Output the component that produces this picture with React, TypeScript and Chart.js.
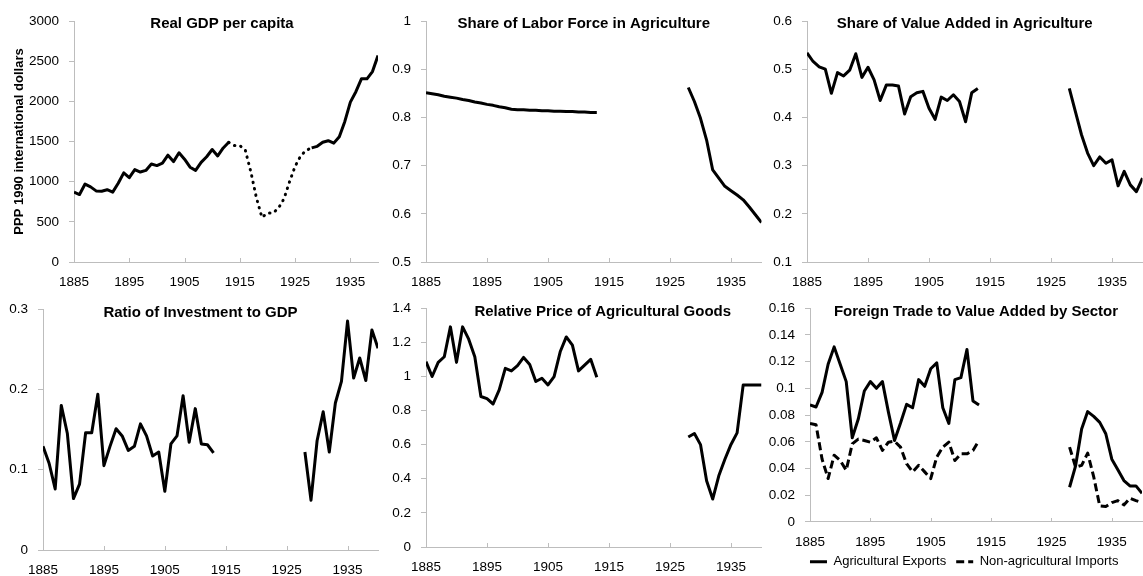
import React, { useEffect, useRef } from 'react';
import { Chart, registerables } from 'chart.js';

Chart.register(...registerables);

const FONT = "'Liberation Sans', Arial, Helvetica, sans-serif";
const GREY = '#bdbdbd';
const INK = '#000000';

Chart.defaults.font.family = FONT;
Chart.defaults.color = INK;

// ---------- categories ----------
const yearsEarly = [1885, 1886, 1887, 1888, 1889, 1890, 1891, 1892, 1893, 1894, 1895, 1896, 1897, 1898, 1899, 1900, 1901, 1902, 1903, 1904, 1905, 1906, 1907, 1908, 1909, 1910, 1911, 1912, 1913];
const yearsWar = [1914, 1915, 1916, 1917, 1918, 1919, 1920, 1921, 1922, 1923, 1924, 1925, 1926, 1927];
const yearsLate = [1928, 1929, 1930, 1931, 1932, 1933, 1934, 1935, 1936, 1937, 1938, 1939, 1940];
const xTicks = [1885, 1895, 1905, 1915, 1925, 1935];

// ---------- series ----------
const gdpEarly = [870, 840, 970, 935, 885, 880, 900, 870, 980, 1110, 1050, 1150, 1120, 1140, 1220, 1200, 1230, 1330, 1250, 1360, 1280, 1180, 1140, 1240, 1310, 1400, 1320, 1420, 1490];
const gdpWar = [1450, 1450, 1390, 1120, 800, 555, 610, 610, 670, 790, 1000, 1190, 1320, 1390];
const gdpLate = [1420, 1440, 1490, 1510, 1480, 1560, 1750, 1990, 2120, 2280, 2280, 2370, 2570];

const laborEarly = [0.851, 0.849, 0.847, 0.844, 0.842, 0.84, 0.837, 0.835, 0.832, 0.83, 0.827, 0.825, 0.822, 0.82, 0.817, 0.816, 0.816, 0.815, 0.815, 0.814, 0.814, 0.813, 0.813, 0.812, 0.812, 0.811, 0.811, 0.81, 0.81];
const laborLate = [0.862, 0.833, 0.798, 0.753, 0.691, 0.674, 0.657, 0.648, 0.639, 0.629, 0.614, 0.598, 0.582];

const vaEarly = [0.534, 0.516, 0.505, 0.5, 0.45, 0.493, 0.486, 0.498, 0.532, 0.483, 0.504, 0.478, 0.435, 0.467, 0.467, 0.465, 0.407, 0.443, 0.451, 0.454, 0.419, 0.396, 0.442, 0.435, 0.447, 0.433, 0.391, 0.451, 0.46];
const vaLate = [0.46, 0.412, 0.364, 0.326, 0.3, 0.318, 0.305, 0.312, 0.258, 0.288, 0.26, 0.246, 0.274];

const invEarly = [0.129, 0.108, 0.076, 0.18, 0.145, 0.064, 0.082, 0.146, 0.146, 0.194, 0.105, 0.129, 0.151, 0.142, 0.124, 0.129, 0.157, 0.142, 0.117, 0.122, 0.073, 0.132, 0.142, 0.192, 0.134, 0.176, 0.132, 0.131, 0.121];
const invLate = [0.122, 0.062, 0.136, 0.172, 0.122, 0.183, 0.21, 0.285, 0.214, 0.239, 0.211, 0.274, 0.251];

const priceEarly = [1.086, 0.999, 1.082, 1.115, 1.29, 1.082, 1.29, 1.218, 1.115, 0.882, 0.869, 0.838, 0.921, 1.047, 1.032, 1.063, 1.111, 1.07, 0.97, 0.989, 0.95, 0.999, 1.144, 1.231, 1.183, 1.032, 1.066, 1.1, 0.995];
const priceLate = [0.645, 0.665, 0.6, 0.388, 0.281, 0.417, 0.514, 0.601, 0.669, 0.95, 0.95, 0.95, 0.95];

const exportsEarly = [0.0875, 0.086, 0.097, 0.118, 0.131, 0.118, 0.105, 0.063, 0.077, 0.098, 0.105, 0.1, 0.105, 0.082, 0.061, 0.074, 0.088, 0.0855, 0.1065, 0.1015, 0.1146, 0.119, 0.0855, 0.0737, 0.1065, 0.108, 0.129, 0.0905, 0.0875];
const exportsLate = [0.026, 0.042, 0.0695, 0.0826, 0.079, 0.0745, 0.066, 0.047, 0.039, 0.031, 0.027, 0.027, 0.0215];
const importsEarly = [0.0737, 0.0727, 0.047, 0.0325, 0.05, 0.046, 0.0387, 0.0584, 0.062, 0.061, 0.0597, 0.063, 0.0535, 0.0597, 0.0604, 0.056, 0.0436, 0.0375, 0.0424, 0.0375, 0.0325, 0.0486, 0.056, 0.0597, 0.046, 0.051, 0.051, 0.0535, 0.061];
const importsLate = [0.056, 0.041, 0.0424, 0.0515, 0.0338, 0.012, 0.0116, 0.0145, 0.016, 0.0128, 0.0178, 0.016, 0.0145];

// ---------- tick labels ----------
const gdpTicks = [0, 500, 1000, 1500, 2000, 2500, 3000];
const laborTicks = [0.5, 0.6, 0.7, 0.8, 0.9, 1];
const vaTicks = [0.1, 0.2, 0.3, 0.4, 0.5, 0.6];
const invTicks = [0, 0.1, 0.2, 0.3];
const priceTicks = [0, 0.2, 0.4, 0.6, 0.8, 1, 1.2, 1.4];
const tradeTicks = [0, 0.02, 0.04, 0.06, 0.08, 0.1, 0.12, 0.14, 0.16];

// ---------- helpers ----------
type Pt = { x: number; y: number | null };
const pts = (years: number[], vals: number[]): Pt[] => years.map((x, i) => ({ x, y: vals[i] }));
const withGap = (a: Pt[], b: Pt[]): Pt[] => [...a, { x: (a[a.length - 1].x + b[0].x) / 2, y: null }, ...b];

const solid = (label: string, early: number[], late: number[]) => ({
  label,
  data: withGap(pts(yearsEarly, early), pts(yearsLate, late)),
  borderColor: INK,
  backgroundColor: INK,
  borderWidth: 3,
  spanGaps: false,
});

const panelTitlePlugin = {
  id: 'panelTitle',
  afterDraw(chart: any, _args: any, opts: any) {
    const { ctx, chartArea } = chart;
    ctx.save();
    ctx.font = `bold 15px ${FONT}`;
    ctx.fillStyle = INK;
    ctx.textAlign = 'center';
    ctx.textBaseline = 'alphabetic';
    ctx.fillText(opts.text, (chartArea.left + chartArea.right) / 2 + opts.dx, chartArea.top + opts.dy);
    ctx.restore();
  },
};

const xTickMarksPlugin = {
  id: 'xTickMarks',
  afterDraw(chart: any) {
    const s = chart.scales.x;
    const ctx = chart.ctx;
    ctx.save();
    ctx.strokeStyle = GREY;
    ctx.lineWidth = 1;
    s.ticks.forEach((t: any) => {
      const px = Math.round(s.getPixelForValue(t.value)) + 0.5;
      ctx.beginPath();
      ctx.moveTo(px, s.top);
      ctx.lineTo(px, s.top - 4);
      ctx.stroke();
    });
    ctx.restore();
  },
};

// nudges the legend box after Chart.js has laid it out
const legendShiftPlugin = {
  id: 'legendShift',
  afterLayout(chart: any, _args: any, opts: any) {
    const lg = chart.legend;
    if (!lg || !opts || (!opts.dx && !opts.dy)) return;
    lg.left += opts.dx || 0;
    lg.right += opts.dx || 0;
    lg.top += opts.dy || 0;
    lg.bottom += opts.dy || 0;
  },
};

interface PanelCfg {
  id: string;
  left: number;
  top: number;
  width: number;
  height: number;
  area: { l: number; t: number; r: number; b: number };
  title: string;
  titleDx: number;
  titleDy: number;
  yTicks: number[];
  yTitle?: string;
  datasets: any[];
  legend?: { dx: number; dy: number };
  padB?: number;
}

const LEGEND_FONT = 13;
const LEGEND_PAD = 10;
const LEGEND_H = LEGEND_FONT + LEGEND_PAD + 10;

const panels: PanelCfg[] = [
  {
    id: 'gdp', left: 0, top: 0, width: 381, height: 290,
    area: { l: 74, t: 21, r: 378, b: 262 },
    title: 'Real GDP per capita', titleDx: -4, titleDy: 7,
    yTicks: gdpTicks, yTitle: 'PPP 1990 international dollars',
    datasets: [
      solid('Real GDP per capita', gdpEarly, gdpLate),
      {
        label: 'Real GDP per capita (interpolated)',
        data: pts([yearsEarly[yearsEarly.length - 1], ...yearsWar, yearsLate[0]], [gdpEarly[gdpEarly.length - 1], ...gdpWar, gdpLate[0]]),
        borderColor: INK,
        borderWidth: 3,
        borderDash: [0.5, 6],
        borderCapStyle: 'round',
      },
    ],
  },
  {
    id: 'labor', left: 381, top: 0, width: 381, height: 290,
    area: { l: 426, t: 21, r: 761.5, b: 262 },
    title: 'Share of Labor Force in Agriculture', titleDx: -10, titleDy: 7,
    yTicks: laborTicks,
    datasets: [solid('Share of Labor Force in Agriculture', laborEarly, laborLate)],
  },
  {
    id: 'va', left: 762, top: 0, width: 381, height: 290,
    area: { l: 807, t: 21, r: 1142.5, b: 262 },
    title: 'Share of Value Added in Agriculture', titleDx: -10, titleDy: 7,
    yTicks: vaTicks,
    datasets: [solid('Share of Value Added in Agriculture', vaEarly, vaLate)],
  },
  {
    id: 'inv', left: 0, top: 290, width: 381, height: 290,
    area: { l: 43, t: 309, r: 378, b: 550 },
    title: 'Ratio of Investment to GDP', titleDx: -10, titleDy: 7.5,
    yTicks: invTicks,
    datasets: [solid('Ratio of Investment to GDP', invEarly, invLate)],
  },
  {
    id: 'price', left: 381, top: 290, width: 381, height: 290,
    area: { l: 426, t: 306, r: 761.5, b: 547 },
    title: 'Relative Price of Agricultural Goods', titleDx: 9, titleDy: 7.5,
    yTicks: priceTicks,
    datasets: [solid('Relative Price of Agricultural Goods', priceEarly, priceLate)],
  },
  {
    id: 'trade', left: 762, top: 290, width: 381, height: 296,
    area: { l: 810, t: 306, r: 1142, b: 522 },
    title: 'Foreign Trade to Value Added by Sector', titleDx: 0, titleDy: 7.5,
    yTicks: tradeTicks,
    legend: { dx: 12.2, dy: -6 }, padB: 1.8,
    datasets: [
      solid('Agricultural Exports', exportsEarly, exportsLate),
      { ...solid('Non-agricultural Imports', importsEarly, importsLate), borderDash: [8, 4] },
    ],
  },
];

function ChartPanel({ cfg }: { cfg: PanelCfg }) {
  const ref = useRef<HTMLCanvasElement | null>(null);
  useEffect(() => {
    const c = cfg;
    const padB = c.padB ?? 0;
    const legendH = c.legend ? LEGEND_H : 0;
    const yW = c.area.l - c.left;
    const xH = c.top + c.height - padB - legendH - c.area.b;
    const chart = new Chart(ref.current as HTMLCanvasElement, {
      type: 'line',
      data: { datasets: c.datasets },
      options: {
        animation: false,
        responsive: false,
        maintainAspectRatio: false,
        devicePixelRatio: 1,
        events: [],
        layout: {
          padding: { left: 0, top: c.area.t - c.top, right: c.left + c.width - c.area.r, bottom: padB },
        },
        elements: {
          point: { radius: 0, hoverRadius: 0 },
          line: { tension: 0, borderJoinStyle: 'round' },
        },
        scales: {
          x: {
            type: 'linear',
            min: 1885,
            max: 1940,
            afterBuildTicks: (s: any) => { s.ticks = xTicks.map((v) => ({ value: v })); },
            afterFit: (s: any) => { s.height = xH; },
            ticks: {
              callback: (v: any) => String(v),
              color: INK,
              font: { size: 13.5, family: FONT },
              padding: 12,
              maxRotation: 0,
              autoSkip: false,
            },
            grid: { display: true, drawOnChartArea: false, drawTicks: false },
            border: { display: true, color: GREY, width: 1 },
          },
          y: {
            type: 'linear',
            min: c.yTicks[0],
            max: c.yTicks[c.yTicks.length - 1],
            afterBuildTicks: (s: any) => { s.ticks = c.yTicks.map((v) => ({ value: v })); },
            afterFit: (s: any) => { s.width = yW; },
            ticks: {
              callback: (v: any) => String(v),
              color: INK,
              font: { size: 13.5, family: FONT },
              padding: 10,
              autoSkip: false,
            },
            grid: { display: true, drawOnChartArea: false, drawTicks: true, tickLength: 5, color: GREY },
            border: { display: true, color: GREY, width: 1 },
            title: c.yTitle
              ? {
                  display: true,
                  text: c.yTitle,
                  color: INK,
                  font: { size: 13, weight: 'bold', family: FONT },
                  padding: { top: 12, bottom: 0 },
                }
              : { display: false },
          },
        },
        plugins: {
          legend: c.legend
            ? {
                display: true,
                position: 'bottom',
                align: 'center',
                labels: {
                  usePointStyle: true,
                  pointStyleWidth: 17,
                  padding: LEGEND_PAD,
                  color: INK,
                  font: { size: LEGEND_FONT, family: FONT },
                  generateLabels: (ch: any) =>
                    ch.data.datasets.map((ds: any, i: number) => ({
                      text: ds.label,
                      fillStyle: 'rgba(0,0,0,0)',
                      strokeStyle: INK,
                      fontColor: INK,
                      lineWidth: 3,
                      lineDash: ds.borderDash || [],
                      pointStyle: 'line',
                      hidden: false,
                      datasetIndex: i,
                    })),
                },
              }
            : { display: false },
          tooltip: { enabled: false },
          title: { display: false },
          panelTitle: { text: c.title, dx: c.titleDx, dy: c.titleDy },
          legendShift: c.legend ? { dx: c.legend.dx, dy: c.legend.dy } : { dx: 0, dy: 0 },
        } as any,
      } as any,
      plugins: [panelTitlePlugin, xTickMarksPlugin, legendShiftPlugin],
    });
    return () => chart.destroy();
  }, [cfg]);
  return (
    <canvas
      ref={ref}
      width={cfg.width}
      height={cfg.height}
      style={{ position: 'absolute', left: cfg.left, top: cfg.top, width: cfg.width, height: cfg.height }}
    />
  );
}

export default function App() {
  return (
    <div style={{ position: 'absolute', left: 0, top: 0, width: 1143, height: 576, overflow: 'hidden', background: '#ffffff' }}>
      {panels.map((p) => (
        <ChartPanel key={p.id} cfg={p} />
      ))}
    </div>
  );
}
